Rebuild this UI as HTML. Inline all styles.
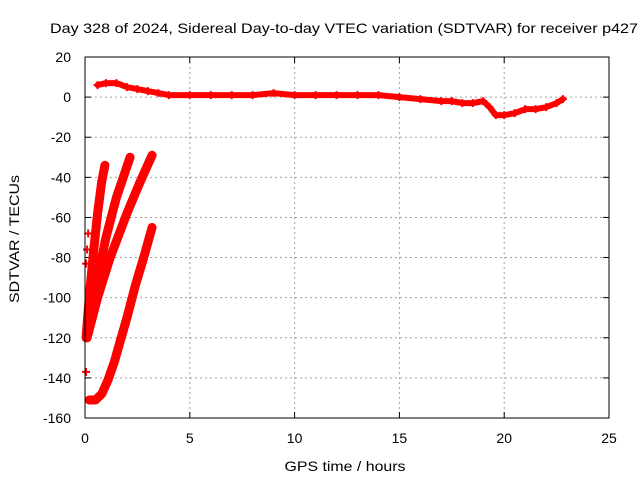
<!DOCTYPE html>
<html><head><meta charset="utf-8"><style>
body{margin:0;background:#fff}
svg{display:block;font-family:"Liberation Sans",sans-serif;font-size:14px}
</style></head><body>
<svg id="c" width="640" height="480">
<text x="344" y="33" text-anchor="middle" textLength="588" lengthAdjust="spacingAndGlyphs">Day 328 of 2024, Sidereal Day-to-day VTEC variation (SDTVAR) for receiver p427</text>
<g id="grid"></g>
<g id="axes"></g>
<g id="series"></g>
<rect x="85" y="57" width="524" height="361" fill="none" stroke="#000" stroke-width="1"/>
<text x="345" y="471" text-anchor="middle" textLength="121" lengthAdjust="spacingAndGlyphs">GPS time / hours</text>
<text transform="translate(19,239) rotate(-90)" text-anchor="middle" textLength="128" lengthAdjust="spacingAndGlyphs">SDTVAR / TECUs</text>
</svg>
<script>
const xTicks=[0,5,10,15,20,25];
const yTicks=[20,0,-20,-40,-60,-80,-100,-120,-140,-160];
const mainX=[0.6,1,1.5,2,2.5,3,3.5,4,5,6,7,8,9,10,11,12,13,14,15,16,17,17.5,18,18.5,19,19.3,19.6,20,20.5,21,21.5,22,22.5,22.8];
const mainY=[6,7,7,5,4,3,2,1,1,1,1,1,2,1,1,1,1,1,0,-1,-2,-2,-3,-3,-2,-5,-9,-9,-8,-6,-6,-5,-3,-1];
const aX=[0.05,0.2,0.4,0.6,0.8,0.95];
const aY=[-120,-100,-78,-58,-42,-34];
const bX=[0.1,0.5,1.0,1.5,2.15];
const bY=[-120,-95,-70,-50,-30];
const cX=[0.15,0.6,1.2,2.0,2.6,3.2];
const cY=[-118,-100,-80,-58,-43,-29];
const dX=[0.2,0.5,0.8,1.1,1.4,1.7,2.0,2.4,2.8,3.2];
const dY=[-151,-151,-148,-141,-132,-121,-110,-94,-80,-65];
const isoX=[0.05,0.05,0.1,0.15];
const isoY=[-137,-83,-76,-68];
const X=v=>85+v*524/25, Y=v=>57+(20-v)*361/180;
const NS='http://www.w3.org/2000/svg';
const g=document.getElementById('grid'),ax=document.getElementById('axes'),s=document.getElementById('series');
function mk(t,a,p){const e=document.createElementNS(NS,t);for(const k in a)e.setAttribute(k,a[k]);p.appendChild(e);return e;}
xTicks.forEach(v=>{
 if(v>0&&v<25){const l=mk('line',{x1:X(v),x2:X(v),y1:57,y2:418,stroke:'#a0a0a0','stroke-dasharray':'2,3'},g);
 
 }
 const t=mk('text',{x:X(v),y:443,'text-anchor':'middle'},ax);t.textContent=v;
 
 
 mk('line',{x1:X(v),x2:X(v),y1:418,y2:412,stroke:'#000'},ax);
 mk('line',{x1:X(v),x2:X(v),y1:57,y2:63,stroke:'#000'},ax);
});
yTicks.forEach(v=>{
 if(v<20&&v>-160){const l=mk('line',{x1:85,x2:609,y1:Y(v),y2:Y(v),stroke:'#a0a0a0','stroke-dasharray':'2,3'},g);
 
 }
 const t=mk('text',{x:71,y:Y(v)+5,'text-anchor':'end'},ax);t.textContent=v;
 
 
 mk('line',{x1:85,x2:91,y1:Y(v),y2:Y(v),stroke:'#000'},ax);
 mk('line',{x1:609,x2:603,y1:Y(v),y2:Y(v),stroke:'#000'},ax);
});
function series(xs,ys,name,w){
 const pts=xs.map((x,i)=>X(x)+','+Y(ys[i])).join(' ');
 const p=mk('polyline',{points:pts,fill:'none',stroke:'#f00','stroke-width':w,'stroke-linejoin':'round','stroke-linecap':'round'},s);
 
 
 xs.forEach((x,i)=>{const cx=X(x),cy=Y(ys[i]);
  mk('path',{d:`M${cx-4},${cy}H${cx+4}M${cx},${cy-4}V${cy+4}`,stroke:'#f00','stroke-width':2},s);});
}
series(mainX,mainY,'main-series',6);
series(aX,aY,'track-a',9);
series(bX,bY,'track-b',9);
series(cX,cY,'track-c',9);
series(dX,dY,'track-d',9);
isoX.forEach((x,i)=>{const cx=X(x),cy=Y(isoY[i]);
 const p=mk('path',{d:`M${cx-4},${cy}H${cx+4}M${cx},${cy-4}V${cy+4}`,stroke:'#f00','stroke-width':2},s);
 
 });
</script>
</body></html>
